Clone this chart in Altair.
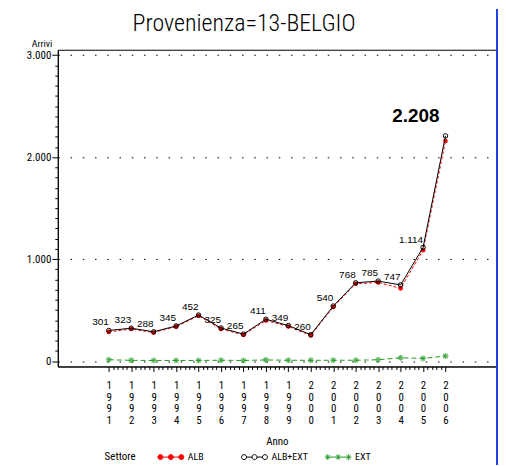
import altair as alt
import pandas as pd

# ---- data ----
anni = list(range(1991, 2007))
alb_ext = [301, 323, 288, 345, 452, 325, 265, 411, 349, 260, 540, 768, 785, 747, 1114, 2208]
alb = [287, 315, 281, 338, 445, 316, 258, 399, 340, 252, 531, 759, 771, 714, 1087, 2158]
ext = [14, 8, 7, 7, 7, 9, 7, 12, 9, 8, 9, 9, 14, 33, 27, 50]
serie = ["ALB", "ALB+EXT", "EXT"]
y_tick_values = list(range(0, 3001, 100))
x_tick_values = [round(1991 + i * 0.2, 1) for i in range(76)]

rows = []
for nome, vals in zip(serie, [alb, alb_ext, ext]):
    for a, v in zip(anni, vals):
        rows.append({"Anno": a, "Settore": nome, "Arrivi": v})
df = pd.DataFrame(rows)

NARROW = "Roboto Condensed, Liberation Sans Narrow, DejaVu Sans Condensed, Liberation Sans, sans-serif"
W, H = 440, 318
GREEN = "#1f9a1f"

xscale = alt.Scale(domain=[1988.73, 2008.25], nice=False, zero=False)
yscale = alt.Scale(domain=[-52, 3052], nice=False, zero=False)

is_int = "abs(datum.value - round(datum.value)) < 0.01"
x_axis = alt.Axis(
    values=x_tick_values,
    tickCount=500,
    title="Anno",
    labelExpr=f"{is_int} ? split(toString(round(datum.value)), '') : ''",
    labelAngle=0,
    labelBaseline="top",
    labelLineHeight=11.7,
    labelPadding=8,
    labelFont=NARROW,
    labelFontSize=11,
    labelColor="black",
    labelOverlap=False,
    labelFlush=False,
    tickSize={"condition": {"test": is_int, "value": 5}, "value": 3},
    tickColor="black",
    domainColor="black",
    grid=False,
    titleFont=NARROW,
    titleFontSize=11,
    titleFontWeight="normal",
    titleColor="black",
    titleY=78,
    titleBaseline="alphabetic",
)

is_major = "datum.value % 1000 === 0"
y_axis = alt.Axis(
    values=y_tick_values,
    tickCount=500,
    title="Arrivi",
    labelExpr=f"{is_major} ? replace(format(datum.value, ','), ',', '.') : ''",
    labelFont=NARROW,
    labelFontSize=11,
    labelColor="black",
    labelPadding=1,
    labelOverlap=False,
    labelFlush=False,
    tickSize={"condition": {"test": is_major, "value": 6}, "value": 3},
    tickColor="black",
    domainColor="black",
    grid=True,
    gridColor="black",
    gridDash=[1.5, 10.8],
    gridOpacity={"condition": {"test": is_major, "value": 1}, "value": 0},
    titleAngle=0,
    titleAlign="right",
    titleBaseline="alphabetic",
    titleX=-6,
    titleY=-3.5,
    titleFont=NARROW,
    titleFontSize=10,
    titleFontWeight="normal",
    titleColor="black",
)

base = alt.Chart(df)
X = alt.X("Anno:Q", scale=xscale, axis=x_axis)
Y = alt.Y("Arrivi:Q", scale=yscale, axis=y_axis)
Xn = alt.X("Anno:Q", scale=xscale)
Yn = alt.Y("Arrivi:Q", scale=yscale)

STAR = "M-1,0L1,0M0,-1L0,1M-0.72,-0.72L0.72,0.72M-0.72,0.72L0.72,-0.72"

ext_line = base.transform_filter("datum.Settore == 'EXT'").mark_line(
    color=GREEN, strokeWidth=1, strokeDash=[5, 3]).encode(x=X, y=Y)
ext_pts = base.transform_filter("datum.Settore == 'EXT'").mark_point(
    shape=STAR, size=36, color=GREEN, strokeWidth=1.2, filled=False).encode(x=Xn, y=Yn)
alb_line = base.transform_filter("datum.Settore == 'ALB'").mark_line(
    color="red", strokeWidth=1, strokeDash=[3, 2]).encode(x=Xn, y=Yn)
alb_pts = base.transform_filter("datum.Settore == 'ALB'").mark_point(
    shape="circle", size=22, color="red", filled=True, opacity=1).encode(x=Xn, y=Yn)
tot_line = base.transform_filter("datum.Settore == 'ALB+EXT'").mark_line(
    color="black", strokeWidth=1).encode(x=Xn, y=Yn)
tot_pts = base.transform_filter("datum.Settore == 'ALB+EXT'").mark_point(
    shape="circle", size=20, color="black", filled=False, strokeWidth=1, opacity=1).encode(x=Xn, y=Yn)

lab = base.transform_filter("datum.Settore == 'ALB+EXT' && datum.Anno < 2006").transform_calculate(
    txt="replace(format(datum.Arrivi, ','), ',', '.')"
).mark_text(
    align="right", baseline="alphabetic", dx=0, dy=-5,
    font="Liberation Sans, Arial, sans-serif", fontSize=10, color="black"
).encode(x=Xn, y=Yn, text="txt:N")

big = base.transform_filter("datum.Settore == 'ALB+EXT' && datum.Anno == 2006").transform_calculate(
    txt="replace(format(datum.Arrivi, ','), ',', '.')"
).mark_text(
    align="right", baseline="alphabetic", dx=-6, dy=-14,
    font="Liberation Sans, Arial, sans-serif", fontSize=19, fontWeight="bold", color="black"
).encode(x=Xn, y=Yn, text="txt:N")

# legend symbols (three connected markers), in pixel units (symbol size 4 -> scale 1)
def circ(cx):
    return f"M{cx+2.5},0A2.5,2.5 0 1,1 {cx-2.5},0A2.5,2.5 0 1,1 {cx+2.5},0Z"
def star_at(cx):
    return (f"M{cx-2.8},0L{cx+2.8},0M{cx},-2.8L{cx},2.8"
            f"M{cx-2},-2L{cx+2},2M{cx-2},2L{cx+2},-2")
LINKS = "M5,0L10.5,0M15.5,0L21,0"
P_ALB = LINKS + circ(2.5) + circ(13) + circ(23.5)
P_TOT = P_ALB
P_EXT = LINKS + star_at(2.5) + star_at(13) + star_at(23.5)

LEG = dict(title="Settore", orient="none", legendX=47, legendY=404, direction="horizontal")

leg = base.transform_filter("false").mark_point(filled=False, strokeWidth=1).encode(
    color=alt.Color("Settore:N", scale=alt.Scale(domain=serie, range=["red", "black", GREEN]),
                    legend=alt.Legend(**LEG)),
    fill=alt.Fill("Settore:N", scale=alt.Scale(domain=serie, range=["red", "transparent", "transparent"]),
                  legend=alt.Legend(**LEG)),
    shape=alt.Shape("Settore:N", scale=alt.Scale(domain=serie, range=[P_ALB, P_TOT, P_EXT]),
                    legend=alt.Legend(**LEG)),
)

border = alt.Chart(df).mark_rule(color="#2040e0", strokeWidth=1.5).encode(
    x=alt.value(441.5), y=alt.value(-41), y2=alt.value(H + 99))

chart = alt.layer(
    ext_line, ext_pts, alb_line, alb_pts, tot_line, tot_pts, lab, big, leg, border
).properties(
    width=W, height=H,
    title=alt.TitleParams(
        "Provenienza=13-BELGIO", font=NARROW, fontSize=24, fontWeight=300,
        color="black", anchor="middle", frame="group", dx=-33, offset=-27.5),
    autosize=alt.AutoSizeParams(type="none"),
    padding={"left": 50, "top": 41, "right": 2, "bottom": 99},
).configure_view(
    stroke="black", strokeWidth=1
).configure_legend(
    titleOrient="left", titleFont=NARROW, titleFontSize=11, titleFontWeight="normal",
    titleColor="black", titlePadding=16.5, titleBaseline="middle",
    labelFont=NARROW, labelFontSize=10, labelColor="black", labelOffset=25,
    symbolSize=4, symbolStrokeWidth=1, gridAlign="all", columnPadding=12,
    symbolOpacity=1,
)

chart.save("out.html", embed_options={"renderer": "svg", "actions": False})
